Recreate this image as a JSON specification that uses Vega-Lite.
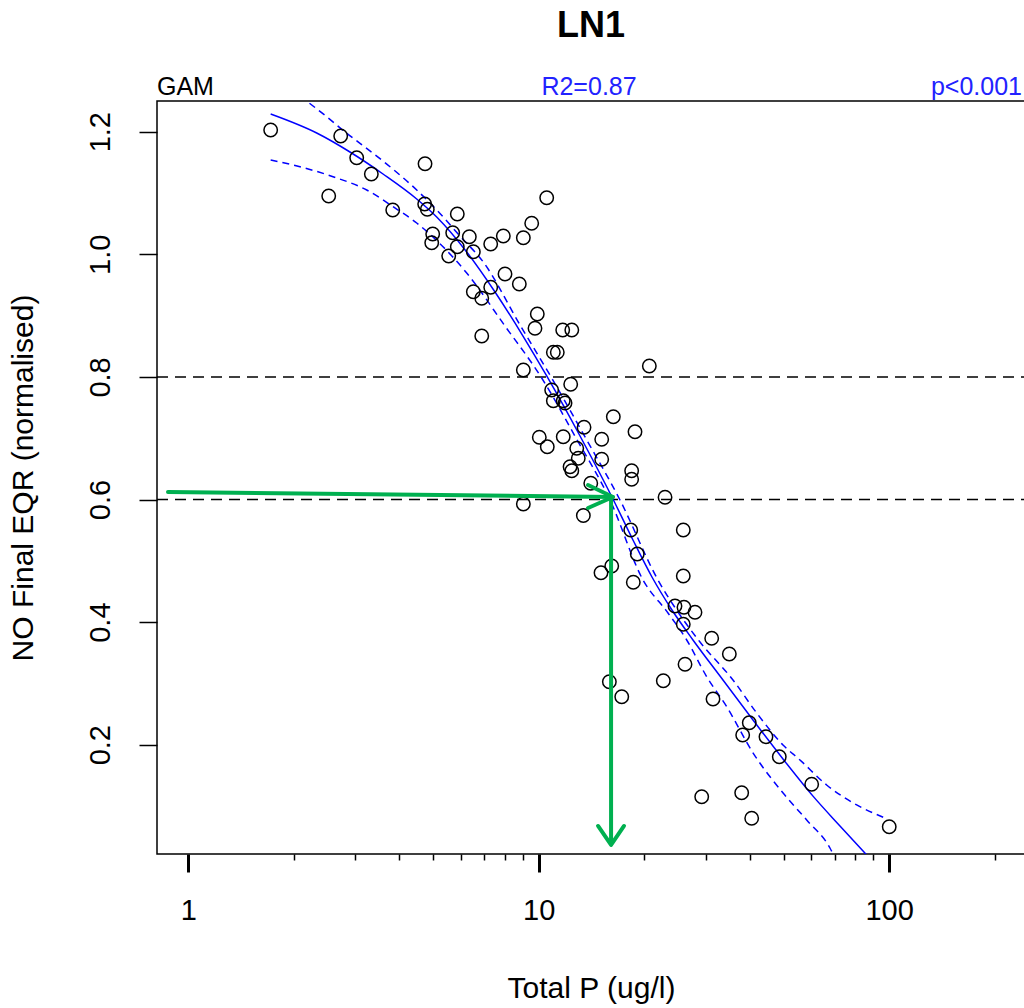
{
  "$schema": "https://vega.github.io/schema/vega-lite/v6.json",
  "width": 868,
  "height": 753,
  "autosize": "none",
  "padding": {"left": 157, "top": 101, "right": 0, "bottom": 154},
  "background": "white",
  "config": {
    "font": "Liberation Sans",
    "view": {"stroke": "black", "strokeWidth": 1.5},
    "axis": {"grid": false, "domain": false, "tickColor": "black", "labelColor": "black", "titleColor": "black", "labelFont": "Liberation Sans", "titleFont": "Liberation Sans", "titleFontWeight": "normal"}
  },
  "title": {"text": "LN1", "fontSize": 36, "fontWeight": "bold", "font": "Liberation Sans", "anchor": "middle", "frame": "group", "offset": 30, "color": "black"},
  "datasets": {
    "pts": [
      {"tp": 1.718, "eqr": 1.2028}, {"tp": 2.722, "eqr": 1.193}, {"tp": 3.024, "eqr": 1.1576}, {"tp": 3.329, "eqr": 1.131},
      {"tp": 2.516, "eqr": 1.0951}, {"tp": 4.738, "eqr": 1.1478}, {"tp": 3.832, "eqr": 1.0723}, {"tp": 4.727, "eqr": 1.0821},
      {"tp": 4.809, "eqr": 1.0734}, {"tp": 5.857, "eqr": 1.0657}, {"tp": 4.983, "eqr": 1.0331}, {"tp": 4.951, "eqr": 1.0189},
      {"tp": 5.683, "eqr": 1.0352}, {"tp": 5.857, "eqr": 1.0124}, {"tp": 5.536, "eqr": 0.9972}, {"tp": 6.339, "eqr": 1.0287},
      {"tp": 10.54, "eqr": 1.0923}, {"tp": 7.295, "eqr": 1.0168}, {"tp": 7.925, "eqr": 1.0299}, {"tp": 9.55, "eqr": 1.0506},
      {"tp": 9.04, "eqr": 1.0271}, {"tp": 6.508, "eqr": 1.0042}, {"tp": 8.014, "eqr": 0.9679}, {"tp": 8.804, "eqr": 0.9515},
      {"tp": 6.508, "eqr": 0.939}, {"tp": 7.295, "eqr": 0.9462}, {"tp": 6.878, "eqr": 0.9282}, {"tp": 9.908, "eqr": 0.9026},
      {"tp": 9.759, "eqr": 0.8793}, {"tp": 11.71, "eqr": 0.8765}, {"tp": 12.43, "eqr": 0.8765}, {"tp": 6.878, "eqr": 0.8667},
      {"tp": 11.01, "eqr": 0.8401}, {"tp": 11.3, "eqr": 0.8401}, {"tp": 9.04, "eqr": 0.8113}, {"tp": 20.69, "eqr": 0.8178},
      {"tp": 12.34, "eqr": 0.7879}, {"tp": 10.89, "eqr": 0.7786}, {"tp": 11.01, "eqr": 0.7612}, {"tp": 11.75, "eqr": 0.7612},
      {"tp": 11.89, "eqr": 0.7574}, {"tp": 16.33, "eqr": 0.7351}, {"tp": 18.83, "eqr": 0.7106}, {"tp": 13.47, "eqr": 0.7178},
      {"tp": 10.04, "eqr": 0.7015}, {"tp": 10.58, "eqr": 0.6861}, {"tp": 11.75, "eqr": 0.7024}, {"tp": 15.13, "eqr": 0.6982},
      {"tp": 12.84, "eqr": 0.6835}, {"tp": 12.97, "eqr": 0.6672}, {"tp": 15.13, "eqr": 0.6656}, {"tp": 12.29, "eqr": 0.6535},
      {"tp": 12.43, "eqr": 0.647}, {"tp": 18.42, "eqr": 0.647}, {"tp": 18.42, "eqr": 0.633}, {"tp": 14.08, "eqr": 0.6264},
      {"tp": 9.04, "eqr": 0.5927}, {"tp": 22.94, "eqr": 0.6036}, {"tp": 13.41, "eqr": 0.5739}, {"tp": 18.31, "eqr": 0.5502},
      {"tp": 25.86, "eqr": 0.5502}, {"tp": 19.11, "eqr": 0.5111}, {"tp": 15.06, "eqr": 0.4806}, {"tp": 16.16, "eqr": 0.4915},
      {"tp": 18.62, "eqr": 0.4649}, {"tp": 25.86, "eqr": 0.4752}, {"tp": 24.49, "eqr": 0.4263}, {"tp": 25.98, "eqr": 0.4241},
      {"tp": 27.93, "eqr": 0.416}, {"tp": 25.86, "eqr": 0.3964}, {"tp": 31.17, "eqr": 0.3736}, {"tp": 35.0, "eqr": 0.348},
      {"tp": 26.16, "eqr": 0.3312}, {"tp": 15.91, "eqr": 0.3028}, {"tp": 22.68, "eqr": 0.3044}, {"tp": 17.26, "eqr": 0.2783},
      {"tp": 31.44, "eqr": 0.2745}, {"tp": 39.9, "eqr": 0.2359}, {"tp": 38.21, "eqr": 0.2158}, {"tp": 44.53, "eqr": 0.2131},
      {"tp": 48.6, "eqr": 0.1804}, {"tp": 60.13, "eqr": 0.1354}, {"tp": 29.19, "eqr": 0.1152}, {"tp": 37.96, "eqr": 0.1217},
      {"tp": 40.54, "eqr": 0.0799}, {"tp": 100.1, "eqr": 0.0662}
    ],
    "curve": [
      {"band": "fit", "tp": 1.718, "eqr": 1.2289}, {"band": "fit", "tp": 2.325, "eqr": 1.1979}, {"band": "fit", "tp": 2.893, "eqr": 1.1669},
      {"band": "fit", "tp": 3.595, "eqr": 1.131}, {"band": "fit", "tp": 4.486, "eqr": 1.0902}, {"band": "fit", "tp": 5.116, "eqr": 1.0608},
      {"band": "fit", "tp": 6.231, "eqr": 1.0038}, {"band": "fit", "tp": 7.505, "eqr": 0.9385}, {"band": "fit", "tp": 9.02, "eqr": 0.8667},
      {"band": "fit", "tp": 10.54, "eqr": 0.8015}, {"band": "fit", "tp": 13.12, "eqr": 0.7036}, {"band": "fit", "tp": 16.29, "eqr": 0.6008},
      {"band": "fit", "tp": 18.58, "eqr": 0.5339}, {"band": "fit", "tp": 21.05, "eqr": 0.4736}, {"band": "fit", "tp": 24.01, "eqr": 0.4197},
      {"band": "fit", "tp": 27.56, "eqr": 0.3708}, {"band": "fit", "tp": 33.57, "eqr": 0.3055}, {"band": "fit", "tp": 40.89, "eqr": 0.2403},
      {"band": "fit", "tp": 49.8, "eqr": 0.1767}, {"band": "fit", "tp": 60.66, "eqr": 0.1161}, {"band": "fit", "tp": 72.42, "eqr": 0.0674},
      {"band": "fit", "tp": 86.33, "eqr": 0.0201},
      {"band": "upper", "tp": 2.083, "eqr": 1.2582}, {"band": "upper", "tp": 2.483, "eqr": 1.2245}, {"band": "upper", "tp": 2.832, "eqr": 1.1974},
      {"band": "upper", "tp": 3.09, "eqr": 1.1811}, {"band": "upper", "tp": 3.764, "eqr": 1.1429}, {"band": "upper", "tp": 4.486, "eqr": 1.1049},
      {"band": "upper", "tp": 5.116, "eqr": 1.0723}, {"band": "upper", "tp": 5.962, "eqr": 1.0298}, {"band": "upper", "tp": 6.948, "eqr": 0.9874},
      {"band": "upper", "tp": 8.845, "eqr": 0.8847}, {"band": "upper", "tp": 10.89, "eqr": 0.7982}, {"band": "upper", "tp": 13.56, "eqr": 0.702},
      {"band": "upper", "tp": 17.06, "eqr": 0.5992}, {"band": "upper", "tp": 21.9, "eqr": 0.4687}, {"band": "upper", "tp": 25.31, "eqr": 0.4116},
      {"band": "upper", "tp": 28.86, "eqr": 0.3676}, {"band": "upper", "tp": 35.85, "eqr": 0.3056}, {"band": "upper", "tp": 41.89, "eqr": 0.2518},
      {"band": "upper", "tp": 49.8, "eqr": 0.1996}, {"band": "upper", "tp": 55.68, "eqr": 0.1751}, {"band": "upper", "tp": 66.34, "eqr": 0.1343},
      {"band": "upper", "tp": 80.84, "eqr": 0.1017}, {"band": "upper", "tp": 97.34, "eqr": 0.0805},
      {"band": "lower", "tp": 1.718, "eqr": 1.1538}, {"band": "lower", "tp": 2.083, "eqr": 1.1429}, {"band": "lower", "tp": 2.588, "eqr": 1.1266},
      {"band": "lower", "tp": 3.23, "eqr": 1.1049}, {"band": "lower", "tp": 3.84, "eqr": 1.0777}, {"band": "lower", "tp": 4.486, "eqr": 1.0511},
      {"band": "lower", "tp": 5.333, "eqr": 1.0124}, {"band": "lower", "tp": 6.231, "eqr": 0.9695}, {"band": "lower", "tp": 8.014, "eqr": 0.883},
      {"band": "lower", "tp": 10.2, "eqr": 0.7982}, {"band": "lower", "tp": 12.78, "eqr": 0.7003}, {"band": "lower", "tp": 15.98, "eqr": 0.5992},
      {"band": "lower", "tp": 19.85, "eqr": 0.4687}, {"band": "lower", "tp": 23.39, "eqr": 0.4149}, {"band": "lower", "tp": 26.45, "eqr": 0.3708},
      {"band": "lower", "tp": 30.17, "eqr": 0.3109}, {"band": "lower", "tp": 34.4, "eqr": 0.262}, {"band": "lower", "tp": 40.97, "eqr": 0.186},
      {"band": "lower", "tp": 49.9, "eqr": 0.1207}, {"band": "lower", "tp": 58.19, "eqr": 0.0772}, {"band": "lower", "tp": 67.8, "eqr": 0.0315},
      {"band": "lower", "tp": 70.55, "eqr": 0.0119}
    ],
    "arrows": [
      {"path": "h", "ord": 1, "tp": 0.875, "eqr": 0.6122}, {"path": "h", "ord": 2, "tp": 16.29, "eqr": 0.6041},
      {"path": "hh", "ord": 1, "tp": 13.83, "eqr": 0.6236}, {"path": "hh", "ord": 2, "tp": 16.29, "eqr": 0.6041}, {"path": "hh", "ord": 3, "tp": 13.83, "eqr": 0.5861},
      {"path": "v", "ord": 1, "tp": 16.09, "eqr": 0.6041}, {"path": "v", "ord": 2, "tp": 16.09, "eqr": 0.0396},
      {"path": "vh", "ord": 1, "tp": 14.77, "eqr": 0.0674}, {"path": "vh", "ord": 2, "tp": 16.09, "eqr": 0.0364}, {"path": "vh", "ord": 3, "tp": 17.52, "eqr": 0.0674}
    ]
  },
  "encoding": {
    "x": {"field": "tp", "type": "quantitative", "scale": {"type": "log", "domain": [0.814, 244.3], "nice": false, "zero": false},
      "axis": {"title": "Total P (ug/l)", "titleFontSize": 30, "titlePadding": 48,
        "values": [1, 2, 3, 4, 5, 6, 7, 8, 9, 10, 20, 30, 40, 50, 60, 70, 80, 90, 100, 200],
        "labelExpr": "(datum.value == 1 || datum.value == 10 || datum.value == 100) ? format(datum.value, 'd') : ''",
        "labelFontSize": 29, "labelPadding": 24, "labelBaseline": "top", "labelFlush": false, "labelOverlap": false,
        "tickSize": {"condition": {"test": "datum.value == 1 || datum.value == 10 || datum.value == 100", "value": 18}, "value": 6},
        "tickWidth": {"condition": {"test": "datum.value == 1 || datum.value == 10 || datum.value == 100", "value": 3}, "value": 1.5}}},
    "y": {"field": "eqr", "type": "quantitative", "scale": {"domain": [0.0217, 1.2501], "nice": false, "zero": false},
      "axis": {"title": "NO Final EQR (normalised)", "titleFontSize": 30, "titlePadding": 48,
        "values": [0.2, 0.4, 0.6, 0.8, 1.0, 1.2], "format": ".1f",
        "labelFontSize": 29, "labelAngle": -90, "labelAlign": "center", "labelBaseline": "alphabetic", "labelPadding": 30,
        "tickSize": 18, "tickWidth": 1.5}}
  },
  "layer": [
    {"data": {"values": [{"ref": 0.8}, {"ref": 0.6}]}, "mark": {"type": "rule", "color": "black", "strokeWidth": 1.5, "strokeDash": [11, 7]},
      "encoding": {"y": {"field": "ref", "type": "quantitative"}, "x": {"value": 0}, "x2": {"value": 868}}},
    {"data": {"name": "curve"}, "transform": [{"filter": "datum.band == 'fit'"}],
      "mark": {"type": "line", "color": "#0000FF", "strokeWidth": 1.5, "clip": true, "interpolate": "monotone"},
      "encoding": {"detail": {"field": "band"}}},
    {"data": {"name": "curve"}, "transform": [{"filter": "datum.band != 'fit'"}],
      "mark": {"type": "line", "color": "#0000FF", "strokeWidth": 1.5, "strokeDash": [7, 5], "clip": true, "interpolate": "monotone"},
      "encoding": {"detail": {"field": "band"}}},
    {"data": {"name": "pts"}, "mark": {"type": "point", "shape": "circle", "filled": false, "stroke": "black", "strokeWidth": 1.5, "size": 180, "opacity": 1}},
    {"data": {"name": "arrows"}, "mark": {"type": "line", "color": "#00B050", "strokeWidth": 4, "strokeCap": "round", "strokeJoin": "round"},
      "encoding": {"detail": {"field": "path"}, "order": {"field": "ord", "type": "quantitative"}}},
    {"data": {"values": [{"tp": 0.814, "eqr": 1.26, "label": "GAM"}]}, "mark": {"type": "text", "align": "left", "baseline": "alphabetic", "fontSize": 25, "color": "black"},
      "encoding": {"text": {"field": "label"}}},
    {"data": {"values": [{"tp": 13.92, "eqr": 1.26, "label": "R2=0.87"}]}, "mark": {"type": "text", "align": "center", "baseline": "alphabetic", "fontSize": 25, "color": "#2222FF"},
      "encoding": {"text": {"field": "label"}}},
    {"data": {"values": [{"tp": 239.5, "eqr": 1.26, "label": "p<0.001"}]}, "mark": {"type": "text", "align": "right", "baseline": "alphabetic", "fontSize": 25, "color": "#2222FF"},
      "encoding": {"text": {"field": "label"}}}
  ]
}
